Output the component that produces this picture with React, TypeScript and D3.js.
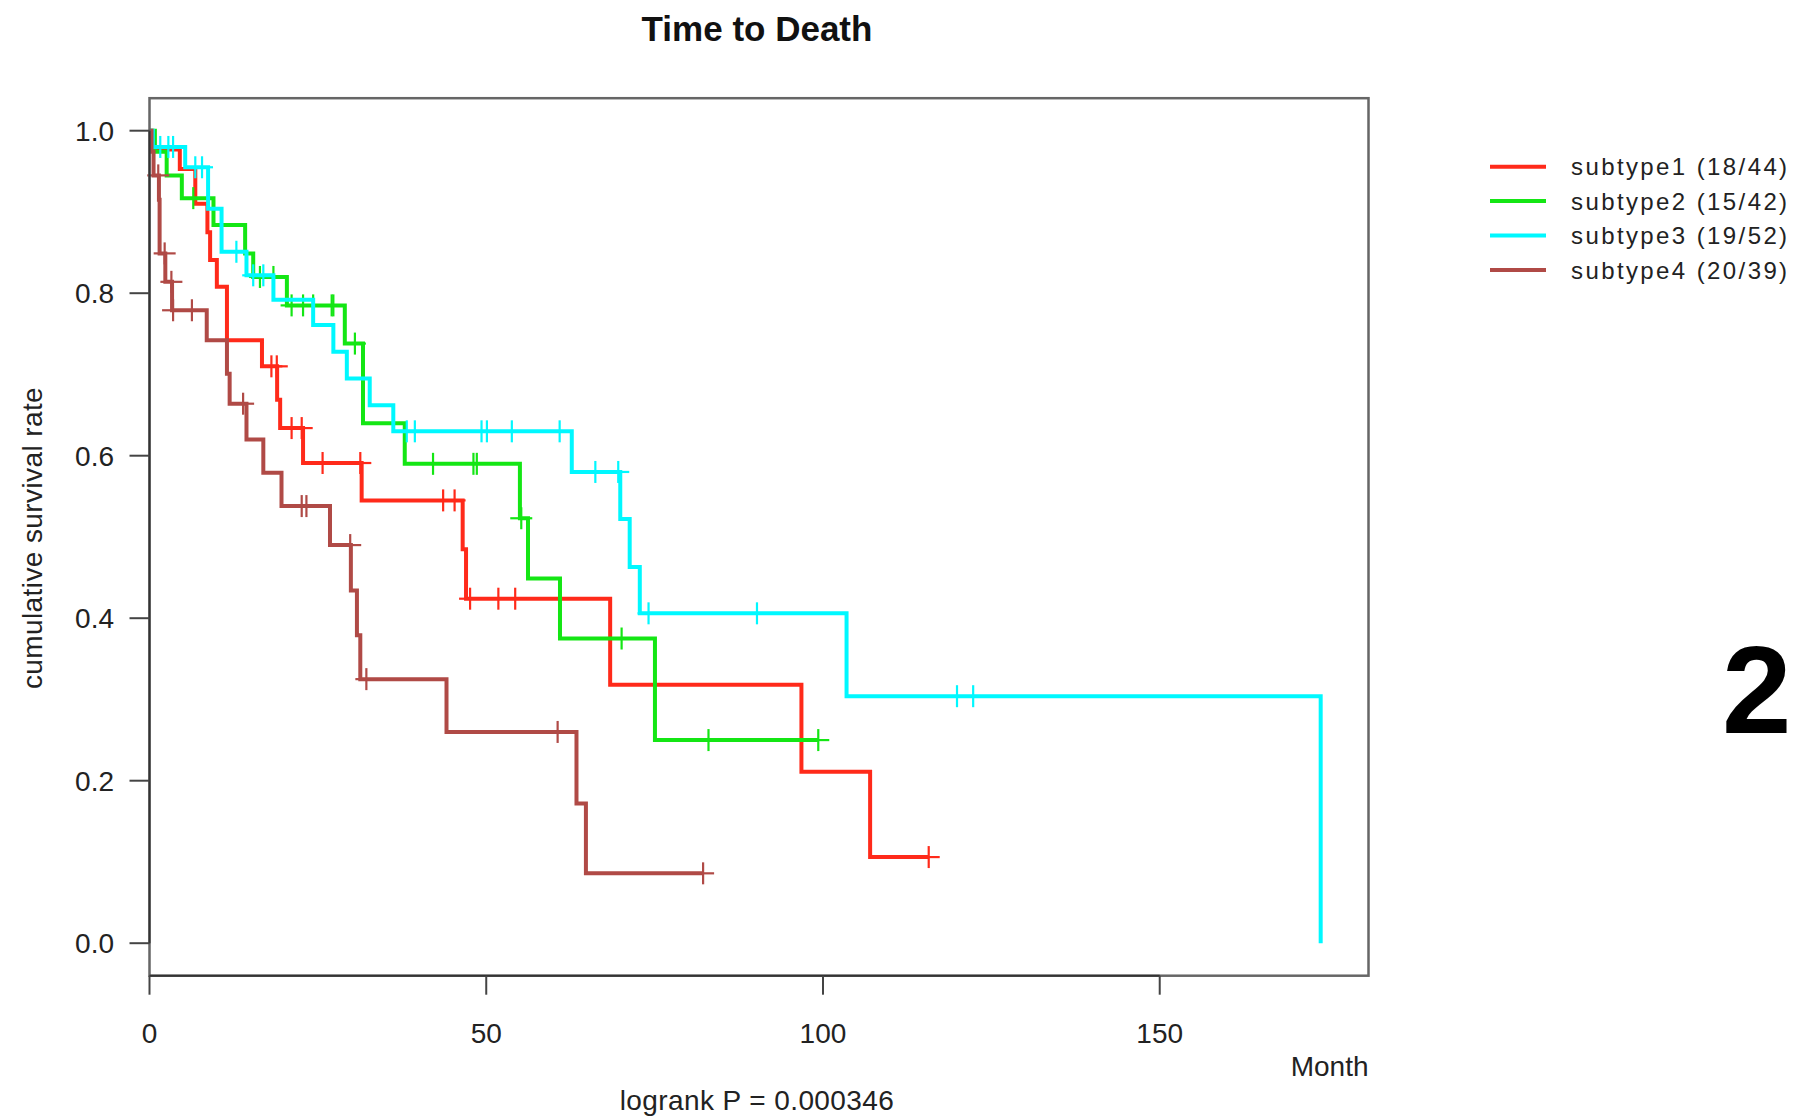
import React from "react";
import * as d3 from "d3";

// survival steps: [time of drop], [survival after drop], censor marks
const s1Times = [0.3, 4.5, 6.8, 8.6, 9.0, 10.0, 11.5, 16.7, 18.95, 19.4, 22.8, 31.5, 46.5, 47.0, 68.4, 96.8, 107.0];
const s1Surv = [0.977, 0.953, 0.91, 0.875, 0.841, 0.808, 0.742, 0.71, 0.669, 0.634, 0.591, 0.545, 0.485, 0.424, 0.318, 0.211, 0.106];
const s1Censor = [18.1, 18.9, 21.1, 22.6, 25.7, 31.3, 43.6, 45.3, 47.6, 51.8, 54.3, 115.7];

const s2Times = [0.8, 2.55, 4.8, 9.5, 14.2, 15.4, 20.4, 29.0, 31.7, 37.9, 55.0, 56.2, 60.95, 75.05];
const s2Surv = [0.974, 0.945, 0.917, 0.884, 0.849, 0.82, 0.785, 0.738, 0.64, 0.59, 0.523, 0.449, 0.375, 0.25];
const s2Censor = [6.5, 16.4, 18.4, 21.1, 22.8, 24.3, 27.05, 27.3, 30.5, 42.1, 48.1, 48.6, 55.2, 70.1, 83.0, 99.3];

const s3Times = [0.5, 5.3, 8.7, 10.7, 14.4, 18.4, 24.3, 27.3, 29.3, 32.7, 36.2, 62.7, 69.9, 71.3, 72.8, 103.5, 173.9];
const s3Surv = [0.98, 0.955, 0.904, 0.851, 0.822, 0.792, 0.761, 0.728, 0.695, 0.662, 0.63, 0.58, 0.522, 0.463, 0.406, 0.304, 0.0];
const s3Censor = [1.6, 2.8, 3.5, 6.8, 7.8, 12.9, 15.4, 16.9, 38.2, 39.4, 49.3, 50.1, 53.8, 60.9, 66.2, 69.6, 74.1, 90.2, 119.9, 122.3];

const s4Times = [0.3, 0.6, 1.4, 1.5, 2.35, 3.35, 8.5, 11.5, 11.9, 14.4, 16.9, 19.6, 26.8, 29.9, 30.8, 31.3, 44.1, 63.4, 64.8];
const s4Surv = [0.974, 0.945, 0.915, 0.849, 0.814, 0.779, 0.742, 0.701, 0.664, 0.62, 0.579, 0.538, 0.49, 0.434, 0.379, 0.325, 0.26, 0.172, 0.086];
const s4Censor = [1.3, 2.25, 3.25, 3.5, 6.3, 13.9, 22.6, 23.3, 29.8, 32.2, 60.6, 82.2];

const seriesNames = ["subtype1 (18/44)", "subtype2 (15/42)", "subtype3 (19/52)", "subtype4 (20/39)"];
const seriesColors = ["#ff2a1a", "#14e614", "#00f8ff", "#b04a46"];

const yTicks = [0, 0.2, 0.4, 0.6, 0.8, 1.0];
const xTicks = [0, 50, 100, 150];

const series = [
  { times: s1Times, surv: s1Surv, censor: s1Censor },
  { times: s2Times, surv: s2Surv, censor: s2Censor },
  { times: s3Times, surv: s3Surv, censor: s3Censor },
  { times: s4Times, surv: s4Surv, censor: s4Censor },
];

const font = "'Liberation Sans', Arial, Helvetica, sans-serif";

const survAt = (times: number[], surv: number[], t: number) => {
  const i = d3.bisectRight(times, t);
  return i === 0 ? 1 : surv[i - 1];
};

export default function App() {
  const width = 1795;
  const height = 1119;

  const x = d3.scaleLinear().domain([0, 181]).range([149.5, 1368.5]);
  const y = d3.scaleLinear().domain([-0.04, 1.04]).range([975.7, 98.2]);

  const line = d3
    .line<[number, number]>()
    .x((d) => x(d[0]))
    .y((d) => y(d[1]))
    .curve(d3.curveStepAfter);

  const left = x.range()[0];
  const right = x.range()[1];
  const top = y.range()[1];
  const bottom = y.range()[0];

  return (
    <svg
      width={width}
      height={height}
      style={{ position: "absolute", left: 0, top: 0, background: "#fff" }}
      fontFamily={font}
    >
      <rect width={width} height={height} fill="#fff" />

      <text x={757} y={41} textAnchor="middle" fontSize={35} fontWeight="bold" fill="#111">
        Time to Death
      </text>

      {/* curves */}
      {series.map((s, j) => {
        const last = s.times[s.times.length - 1];
        const end = Math.max(last, d3.max(s.censor) ?? 0);
        const pts: [number, number][] = [[0, 1]];
        s.times.forEach((t, i) => pts.push([t, s.surv[i]]));
        pts.push([end, s.surv[s.surv.length - 1]]);
        return (
          <g key={j} stroke={seriesColors[j]} fill="none">
            <path d={line(pts) ?? ""} strokeWidth={4} strokeLinejoin="miter" />
            {s.censor.map((c, k) => {
              const cx = x(c);
              const cy = y(survAt(s.times, s.surv, c));
              return (
                <g key={k} strokeWidth={2.2}>
                  <line x1={cx} x2={cx} y1={cy - 11} y2={cy + 11} />
                  <line x1={cx - 11} x2={cx + 11} y1={cy} y2={cy} />
                </g>
              );
            })}
          </g>
        );
      })}

      {/* box */}
      <rect
        x={left}
        y={top}
        width={right - left}
        height={bottom - top}
        fill="none"
        stroke="#666"
        strokeWidth={2.5}
      />

      {/* y axis */}
      <g>
        <line x1={left} x2={left} y1={y(0)} y2={y(1)} stroke="#333" strokeWidth={2} />
        {yTicks.map((t, i) => (
          <g key={i}>
            <line x1={left - 20} x2={left} y1={y(t)} y2={y(t)} stroke="#444" strokeWidth={2} />
            <text x={114} y={y(t)} dy="0.36em" textAnchor="end" fontSize={28} fill="#222">
              {t.toFixed(1)}
            </text>
          </g>
        ))}
        <text
          transform={`translate(42,538) rotate(-90)`}
          textAnchor="middle"
          fontSize={28}
          letterSpacing={0.4}
          fill="#222"
        >
          cumulative survival rate
        </text>
      </g>

      {/* x axis */}
      <g>
        <line x1={x(0)} x2={x(150)} y1={bottom} y2={bottom} stroke="#333" strokeWidth={2} />
        {xTicks.map((t, i) => (
          <g key={i}>
            <line x1={x(t)} x2={x(t)} y1={bottom} y2={bottom + 19} stroke="#444" strokeWidth={2} />
            <text x={x(t)} y={1043} textAnchor="middle" fontSize={28} fill="#222">
              {t}
            </text>
          </g>
        ))}
        <text x={right} y={1076} textAnchor="end" fontSize={28} fill="#222">
          Month
        </text>
        <text x={757} y={1110} textAnchor="middle" fontSize={28} letterSpacing={0.4} fill="#222">
          logrank P = 0.000346
        </text>
      </g>

      {/* legend */}
      <g>
        {seriesNames.map((name, j) => {
          const ly = 166.7 + j * 34.4;
          return (
            <g key={j}>
              <line x1={1490} x2={1546} y1={ly} y2={ly} stroke={seriesColors[j]} strokeWidth={4} />
              <text x={1571} y={ly} dy="0.36em" fontSize={24} letterSpacing={2.4} fill="#222">
                {name}
              </text>
            </g>
          );
        })}
      </g>

      <text x={1722} y={733} fontSize={125} fontWeight="bold" fill="#000">
        2
      </text>
    </svg>
  );
}
